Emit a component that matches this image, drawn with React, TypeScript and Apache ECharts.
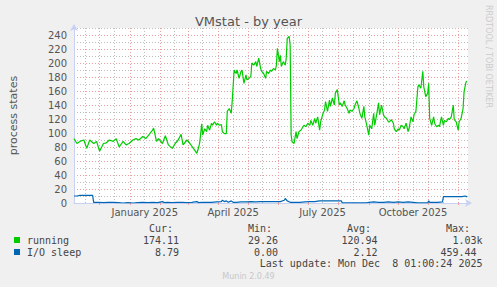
import React, { useEffect, useRef } from "react";
import * as echarts from "echarts";

const START = Date.UTC(2024, 10, 5);
const END = START + 401 * 86400000;
const DAY = 86400000;

// [day offset from START, value]
const running: [number, number][] = [
  [0, 92], [3, 85], [6, 88], [10, 90], [13, 78], [16, 90], [20, 85], [23, 88], [26, 74], [30, 85],
  [33, 86], [36, 90], [40, 88], [43, 92], [46, 80], [50, 88], [53, 83], [56, 85], [60, 90], [63, 92],
  [66, 90], [70, 95], [73, 92], [76, 97], [80, 104], [81, 107], [84, 88], [86, 92], [90, 85], [93, 96],
  [96, 83], [100, 78], [103, 85], [106, 90], [109, 98], [111, 83], [115, 90], [118, 85], [121, 79], [125, 71],
  [127, 80], [128, 87], [130, 113], [131, 97], [133, 106], [135, 102], [136, 111], [138, 104], [140, 114], [141, 111],
  [143, 116], [145, 111], [146, 114], [148, 111], [150, 112], [151, 102], [153, 99], [155, 99], [156, 131], [158, 135],
  [160, 128], [161, 145], [163, 190], [165, 185], [166, 190], [168, 178], [170, 188], [171, 190], [173, 171], [175, 183],
  [176, 176], [178, 178], [180, 181], [181, 200], [183, 197], [185, 202], [186, 195], [188, 207], [190, 192], [191, 188],
  [193, 185], [195, 178], [196, 188], [198, 185], [200, 190], [201, 188], [203, 192], [205, 190], [206, 197], [207, 221],
  [209, 202], [210, 211], [211, 195], [213, 202], [215, 197], [216, 207], [217, 235], [219, 238], [220, 225], [221, 97],
  [222, 87], [224, 85], [226, 102], [227, 92], [229, 102], [231, 104], [234, 111], [236, 109], [238, 114], [240, 111],
  [241, 118], [243, 111], [245, 121], [246, 114], [248, 123], [250, 104], [251, 116], [253, 126], [255, 133], [256, 145],
  [258, 131], [260, 147], [261, 138], [263, 150], [265, 140], [266, 157], [268, 162], [270, 140], [271, 143], [273, 138],
  [275, 146], [276, 140], [278, 135], [280, 128], [281, 133], [283, 131], [285, 135], [286, 140], [288, 146], [290, 135],
  [291, 128], [293, 121], [295, 138], [296, 123], [298, 111], [300, 97], [301, 111], [303, 106], [305, 128], [306, 111],
  [308, 126], [310, 143], [311, 126], [313, 140], [315, 126], [316, 123], [318, 121], [320, 116], [321, 116], [323, 119],
  [325, 114], [326, 106], [328, 102], [330, 106], [331, 104], [333, 111], [335, 109], [336, 106], [338, 114], [340, 102],
  [341, 106], [343, 123], [345, 116], [346, 126], [348, 131], [350, 166], [351, 169], [353, 164], [355, 188], [356, 166],
  [358, 152], [360, 157], [361, 171], [362, 121], [364, 111], [366, 123], [367, 114], [369, 109], [371, 111], [372, 109],
  [374, 123], [376, 111], [377, 118], [379, 116], [381, 121], [382, 119], [384, 123], [386, 140], [387, 119], [389, 116],
  [391, 104], [392, 116], [394, 121], [396, 135], [397, 159], [399, 173], [400, 174],
];

const ioSleep: [number, number][] = [
  [0, 10], [3, 10], [6, 11], [10, 11], [15, 11], [19, 11], [20, 1], [25, 1], [30, 0.5], [35, 1],
  [40, 1], [45, 0.5], [50, 0], [55, 0.5], [60, 0], [65, 0.5], [70, 1], [75, 0.5], [80, 1], [85, 0.5],
  [90, 2], [92, 0.5], [95, 1], [100, 0.5], [105, 1], [110, 1], [115, 0.5], [120, 1], [125, 2], [127, 0.5],
  [130, 1], [135, 1], [140, 1], [145, 1.5], [150, 2], [151, 4], [153, 2], [155, 3], [157, 1], [160, 3],
  [162, 1], [165, 1], [170, 1.5], [175, 1.5], [180, 2], [185, 1.5], [190, 2], [195, 2], [200, 2], [205, 2],
  [210, 2], [214, 4], [215, 6.5], [217, 3], [220, 1], [225, 1], [230, 1], [235, 1.5], [240, 2], [245, 2],
  [250, 3], [255, 3], [260, 3], [265, 3], [270, 3], [272, 3], [273, 0.3], [280, 0.3], [290, 0.3], [298, 0.3],
  [300, 1], [305, 1.5], [310, 1], [315, 1], [320, 1.5], [325, 1], [330, 1.5], [335, 1], [340, 1.5], [345, 1],
  [350, 0.3], [355, 0.3], [360, 0.3], [361, 3], [362, 1], [365, 1], [370, 1], [375, 1.5], [376, 9], [380, 9],
  [385, 9], [390, 9], [395, 9], [398, 10], [400, 8.8],
];

const monthStarts = [
  "2024-12-01", "2025-01-01", "2025-02-01", "2025-03-01", "2025-04-01", "2025-05-01", "2025-06-01",
  "2025-07-01", "2025-08-01", "2025-09-01", "2025-10-01", "2025-11-01", "2025-12-01",
];
const midMonths = [
  "2024-11-16", "2024-12-16", "2025-01-16", "2025-02-15", "2025-03-16", "2025-04-16", "2025-05-16",
  "2025-06-16", "2025-07-16", "2025-08-16", "2025-09-16", "2025-10-16", "2025-11-16",
];
const labelDates = ["2025-01-16", "2025-04-16", "2025-07-16", "2025-10-16"];
const labelTexts = ["January 2025", "April 2025", "July 2025", "October 2025"];

const seriesNames = ["running", "I/O sleep"];
const seriesColors = ["#00CC00", "#0066B3"];
const curValues = ["174.11", "8.79"];
const minValues = ["29.26", "0.00"];
const avgValues = ["120.94", "2.12"];
const maxValues = ["1.03k", "459.44"];
const lastUpdate = "Last update: Mon Dec  8 01:00:24 2025";

const MONO = "DejaVu Sans Mono";
const SANS = "DejaVu Sans";
const TXT = "#444";
const MAJOR = "#EBA0A0";
const MINOR = "#BDBDBD";

export default function App() {
  const ref = useRef<HTMLDivElement>(null);
  useEffect(() => {
    if (!ref.current) return;
    const chart = echarts.init(ref.current, null, { renderer: "svg" });
    const toTs = (d: [number, number][]) => d.map(([day, v]) => [START + day * DAY, v]);
    const labelTs = labelDates.map((d) => Date.parse(d));
    const gridLine = (dates: string[], color: string) => ({
      silent: true,
      symbol: ["none", "none"],
      label: { show: false },
      z: 1,
      lineStyle: { color, type: [1, 2], width: 1 },
      data: dates.map((d) => ({ xAxis: Date.parse(d) })),
    });
    const rowY = [240, 252];
    const legendGraphics: any[] = [];
    const headers: [string, number][] = [
      ["Cur:", 173],
      ["Min:", 272],
      ["Avg:", 371],
      ["Max:", 470],
    ];
    headers.forEach(([t, x]) =>
      legendGraphics.push({
        type: "text",
        x,
        y: 228,
        style: { text: t, fill: TXT, font: `10px '${MONO}'`, textAlign: "right", textVerticalAlign: "middle" },
      })
    );
    seriesNames.forEach((name, i) => {
      legendGraphics.push({
        type: "rect",
        shape: { x: 14, y: rowY[i] - 3, width: 6, height: 6 },
        style: { fill: seriesColors[i] },
      });
      legendGraphics.push({
        type: "text",
        x: 27,
        y: rowY[i],
        style: { text: name, fill: TXT, font: `10px '${MONO}'`, textAlign: "left", textVerticalAlign: "middle" },
      });
      const vals: [string, number][] = [
        [curValues[i], 179],
        [minValues[i], 278],
        [avgValues[i], 377.5],
        [maxValues[i], maxValues[i].endsWith("k") ? 482.5 : 476.5],
      ];
      vals.forEach(([t, x]) =>
        legendGraphics.push({
          type: "text",
          x,
          y: rowY[i],
          style: { text: t, fill: TXT, font: `10px '${MONO}'`, textAlign: "right", textVerticalAlign: "middle" },
        })
      );
    });
    legendGraphics.push({
      type: "text",
      x: 482.5,
      y: 263.5,
      style: { text: lastUpdate, fill: TXT, font: `10px '${MONO}'`, textAlign: "right", textVerticalAlign: "middle" },
    });
    legendGraphics.push({
      type: "text",
      x: 248.5,
      y: 276,
      style: { text: "Munin 2.0.49", fill: "#c8c8c8", font: `8px '${SANS}'`, textAlign: "center", textVerticalAlign: "middle" },
    });
    legendGraphics.push({
      type: "text",
      x: 488,
      y: 5,
      rotation: -Math.PI / 2,
      style: {
        text: "RRDTOOL / TOBI OETIKER",
        fill: "#cccccc",
        font: `8px '${SANS}'`,
        textAlign: "left",
        textVerticalAlign: "middle",
      },
    });

    chart.setOption({
      animation: false,
      backgroundColor: "#F0F0F0",
      title: {
        text: "VMstat - by year",
        left: "center",
        top: 10,
        textStyle: { fontFamily: SANS, fontSize: 13, fontWeight: "normal", color: "#555" },
      },
      grid: {
        left: 67,
        top: 28,
        width: 401,
        height: 175,
        show: true,
        backgroundColor: "#ffffff",
        borderWidth: 0,
      },
      xAxis: {
        type: "value",
        min: START,
        max: END,
        axisLine: {
          onZero: true,
          lineStyle: { color: "#C8D0F4", width: 1 },
          symbol: ["none", "arrow"],
          symbolSize: [6, 7],
          symbolOffset: [0, 4],
        },
        axisTick: {
          show: true,
          length: 2,
          customValues: monthStarts.map((d) => Date.parse(d)),
          lineStyle: { color: MAJOR },
        },
        axisLabel: {
          customValues: labelTs,
          formatter: (v: number) => {
            const i = labelTs.indexOf(v);
            return i >= 0 ? labelTexts[i] : "";
          },
          margin: 4,
          color: "#555",
          fontFamily: SANS,
          fontSize: 10,
        },
        splitLine: { show: false },
      },
      yAxis: {
        type: "value",
        min: 0,
        max: 250,
        interval: 10,
        name: "process states",
        nameLocation: "middle",
        nameGap: 55,
        nameTextStyle: { fontFamily: SANS, fontSize: 11, color: "#555" },
        axisLine: {
          show: true,
          lineStyle: { color: "#C8D0F4", width: 1 },
          symbol: ["none", "arrow"],
          symbolSize: [6, 7],
          symbolOffset: [0, 4],
        },
        axisTick: { show: false },
        axisLabel: {
          formatter: (v: number) => (v % 20 === 0 && v <= 240 ? String(v) : ""),
          margin: 7,
          color: "#555",
          fontFamily: SANS,
          fontSize: 10,
        },
        splitLine: {
          show: true,
          lineStyle: { color: [MAJOR, MINOR], type: [1, 2], width: 1 },
        },
      },
      graphic: legendGraphics,
      series: [
        {
          type: "line",
          name: "grid",
          data: [],
          z: 1,
          silent: true,
          markLine: gridLine(midMonths, MINOR),
        },
        {
          type: "line",
          name: "grid2",
          data: [],
          z: 1,
          silent: true,
          markLine: gridLine(monthStarts, MAJOR),
        },
        {
          type: "line",
          name: seriesNames[0],
          data: toTs(running),
          showSymbol: false,
          symbol: "none",
          z: 3,
          lineStyle: { color: seriesColors[0], width: 1.2 },
        },
        {
          type: "line",
          name: seriesNames[1],
          data: toTs(ioSleep),
          showSymbol: false,
          symbol: "none",
          z: 3,
          lineStyle: { color: seriesColors[1], width: 1.2 },
        },
      ],
    });
    return () => chart.dispose();
  }, []);
  return <div ref={ref} style={{ position: "fixed", left: 0, top: 0, width: 497, height: 287 }} />;
}
